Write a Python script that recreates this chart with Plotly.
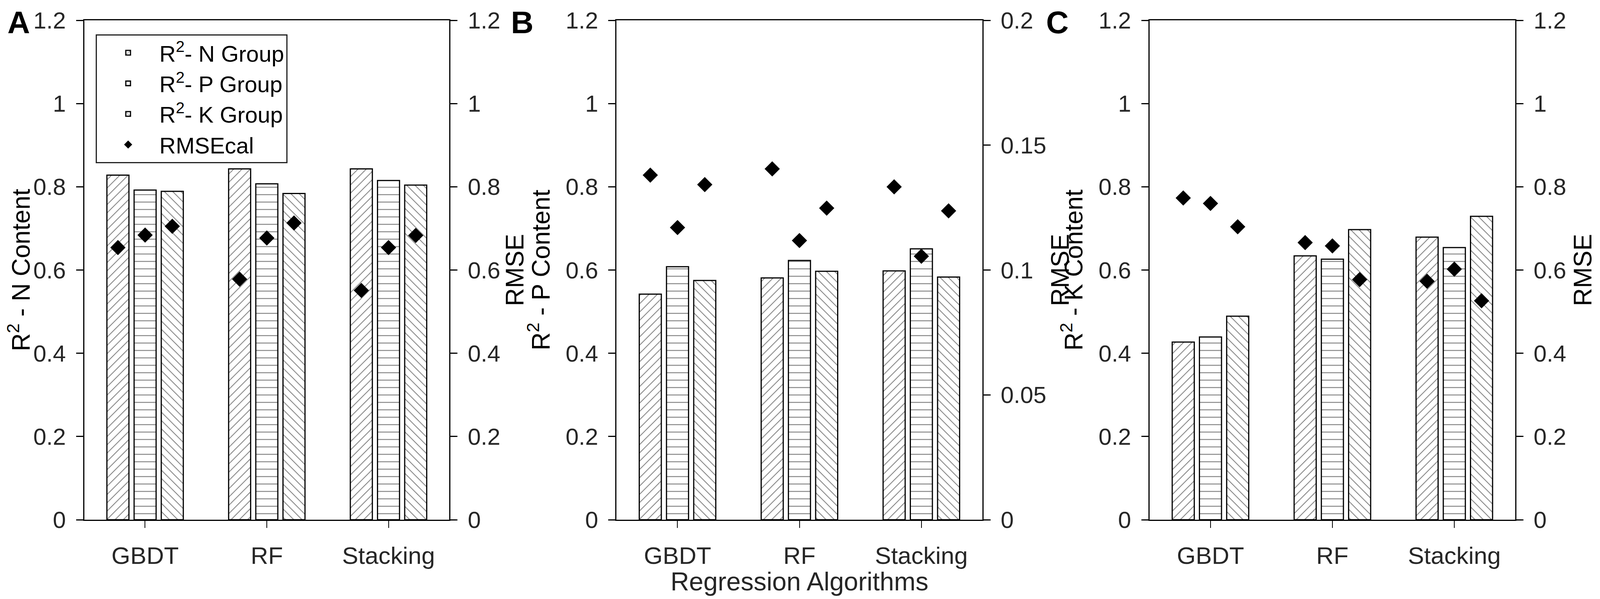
import plotly.graph_objects as go

# categories and labels
algorithms = ["GBDT", "RF", "Stacking"]
group_names = ["R<sup>2</sup>- N Group", "R<sup>2</sup>- P Group", "R<sup>2</sup>- K Group"]
rmse_name = "RMSEcal"

r2_ticks = [0, 0.2, 0.4, 0.6, 0.8, 1.0, 1.2]
r2_ticktext = ["0", "0.2", "0.4", "0.6", "0.8", "1", "1.2"]
rmse_b_ticks = [0, 0.05, 0.1, 0.15, 0.2]
rmse_b_ticktext = ["0", "0.05", "0.1", "0.15", "0.2"]

# panel A - N content
a_r2_n = [0.828, 0.843, 0.843]
a_r2_p = [0.792, 0.807, 0.815]
a_r2_k = [0.789, 0.784, 0.804]
a_rmse_n = [0.654, 0.578, 0.551]
a_rmse_p = [0.684, 0.677, 0.654]
a_rmse_k = [0.705, 0.713, 0.683]

# panel B - P content
b_r2_n = [0.542, 0.581, 0.598]
b_r2_p = [0.608, 0.623, 0.651]
b_r2_k = [0.575, 0.597, 0.583]
b_rmse_n = [0.138, 0.1405, 0.1333]
b_rmse_p = [0.117, 0.1118, 0.1055]
b_rmse_k = [0.1342, 0.1248, 0.1237]

# panel C - K content
c_r2_n = [0.427, 0.634, 0.679]
c_r2_p = [0.439, 0.626, 0.654]
c_r2_k = [0.489, 0.697, 0.729]
c_rmse_n = [0.773, 0.666, 0.573]
c_rmse_p = [0.760, 0.658, 0.602]
c_rmse_k = [0.704, 0.577, 0.526]

FONT = "Liberation Sans, Arial, sans-serif"
TICKCOL = "#262626"

patterns = [
    dict(shape="/", size=15, solidity=0.14, fgcolor="black", bgcolor="white"),
    dict(shape="-", size=19, solidity=0.12, fgcolor="black", bgcolor="white"),
    dict(shape="\\", size=15, solidity=0.14, fgcolor="black", bgcolor="white"),
]

# width follows the window, so x domains are fractions of the whole page
# (r2 lists, rmse lists, left title, right ticks, right labels, right range, domain,
#  left title standoff, right title standoff)
panels = [
    ([a_r2_n, a_r2_p, a_r2_k], [a_rmse_n, a_rmse_p, a_rmse_k], "R<sup>2</sup> - N Content",
     r2_ticks, r2_ticktext, [0, 1.2], [0.0509, 0.2800], 28, 16),
    ([b_r2_n, b_r2_p, b_r2_k], [b_rmse_n, b_rmse_p, b_rmse_k], "R<sup>2</sup> - P Content",
     rmse_b_ticks, rmse_b_ticktext, [0, 0.2], [0.3849, 0.6144], 20, 14),
    ([c_r2_n, c_r2_p, c_r2_k], [c_rmse_n, c_rmse_p, c_rmse_k], "R<sup>2</sup> - K Content",
     r2_ticks, r2_ticktext, [0, 1.2], [0.7193, 0.9488], 20, 28),
]

fig = go.Figure()
layout = {}
for i, (r2s, rmses, ytitle, rticks, rtext, rrange, dom, lstand, rstand) in enumerate(panels):
    xa = "x" if i == 0 else "x%d" % (i + 1)
    yl = "y" if i == 0 else "y%d" % (2 * i + 1)
    yr = "y%d" % (2 * i + 2)
    for j in range(3):
        fig.add_trace(go.Bar(x=algorithms, y=r2s[j], name=group_names[j], xaxis=xa, yaxis=yl,
                             offsetgroup=str(j), legendgroup=str(j), showlegend=(i == 0),
                             marker=dict(color="white", line=dict(color="black", width=3),
                                         pattern=patterns[j])))
    for j in range(3):
        fig.add_trace(go.Scatter(x=algorithms, y=rmses[j], name=rmse_name, xaxis=xa, yaxis=yr,
                                 mode="markers", offsetgroup=str(j), legendgroup="rmse",
                                 showlegend=(i == 0 and j == 0),
                                 marker=dict(symbol="diamond", size=30, color="black")))

    axline = dict(showline=True, linecolor="black", linewidth=3, showgrid=False, zeroline=False,
                  ticks="outside", tickcolor="black", tickwidth=3,
                  tickfont=dict(size=60, color=TICKCOL, family=FONT))
    xkey = "xaxis" if i == 0 else "xaxis%d" % (i + 1)
    ylkey = "yaxis" if i == 0 else "yaxis%d" % (2 * i + 1)
    yrkey = "yaxis%d" % (2 * i + 2)
    layout[xkey] = dict(axline, domain=dom, anchor=yl, type="category", mirror=True,
                        ticklen=18, tickwidth=2, tickfont=dict(size=62, color=TICKCOL, family=FONT),
                        ticklabelstandoff=18)
    layout[ylkey] = dict(axline, domain=[0, 1], anchor=xa, range=[0, 1.2], tickvals=r2_ticks,
                         ticktext=r2_ticktext, ticklen=18, ticklabelstandoff=14,
                         title=dict(text=ytitle, font=dict(size=64, color="black", family=FONT),
                                    standoff=lstand))
    layout[yrkey] = dict(axline, domain=[0, 1], anchor=xa, overlaying=yl, side="right",
                         range=rrange, tickvals=rticks, ticktext=rtext, ticklen=18,
                         ticklabelstandoff=14,
                         title=dict(text="RMSE", font=dict(size=64, color="black", family=FONT),
                                    standoff=rstand))

layout["xaxis2"]["title"] = dict(text="Regression Algorithms",
                                 font=dict(size=66, color=TICKCOL, family=FONT), standoff=14)

panel_tags = ["<b>A</b>", "<b>B</b>", "<b>C</b>"]
tag_x = [0.0098, 0.3258, 0.6616]

fig.update_layout(**layout)
fig.update_layout(
    height=1518, autosize=True,
    margin=dict(l=0, r=0, t=44, b=195),
    paper_bgcolor="white", plot_bgcolor="white",
    font=dict(family=FONT, color="black"),
    barmode="group", bargap=0.33, bargroupgap=0.19,
    scattermode="group", scattergap=0.33,
    legend=dict(x=0.0581, y=0.972, xanchor="left", yanchor="top", bgcolor="white",
                bordercolor="#222222", borderwidth=3, traceorder="normal",
                font=dict(size=58, color="black", family=FONT), itemwidth=150),
    annotations=[
        dict(text=t, x=x, y=1.032, xref="paper", yref="paper", showarrow=False,
             font=dict(size=80, family=FONT, color="black"), xanchor="center", yanchor="top")
        for t, x in zip(panel_tags, tag_x)
    ],
)

fig.write_html("out.html")
